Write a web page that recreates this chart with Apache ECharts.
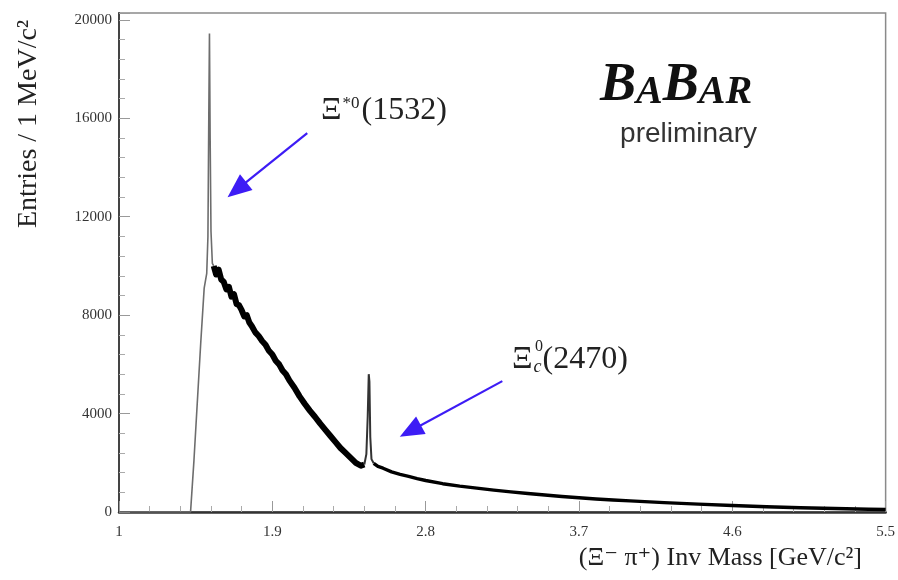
<!DOCTYPE html>
<html>
<head>
<meta charset="utf-8">
<script src="https://cdn.jsdelivr.net/npm/echarts@6/dist/echarts.min.js"></script>
<style>
  html, body { margin: 0; padding: 0; background: #fff; }
  #chart { width: 898px; height: 580px; }
</style>
</head>
<body>
<div id="chart"></div>
<script>
// values (mass in GeV/c^2, entries per 1 MeV/c^2)
var riseMass    = [1.0, 1.42, 1.44, 1.46, 1.48, 1.50, 1.515, 1.522, 1.527, 1.531, 1.535, 1.54, 1.548, 1.556];
var riseEntries = [0, 0, 2100, 4500, 6900, 9100, 9700, 11200, 16000, 19450, 15200, 11400, 10100, 10000];

var bandMass = [1.556, 1.57, 1.585, 1.60, 1.615, 1.63, 1.645, 1.66, 1.675, 1.69, 1.705, 1.72, 1.735, 1.75,
                1.765, 1.78, 1.80, 1.82, 1.84, 1.86, 1.88, 1.90, 1.92, 1.94, 1.96, 1.98, 2.00, 2.03,
                2.06, 2.09, 2.12, 2.15, 2.18, 2.21, 2.24, 2.27, 2.30, 2.33, 2.36, 2.39, 2.42, 2.44];
var bandEntries = [10000, 9650, 9850, 9450, 9350, 9050, 9150, 8750, 8850, 8450, 8400, 8200, 7950, 8000,
                   7700, 7550, 7300, 7150, 6950, 6800, 6550, 6400, 6150, 6000, 5750, 5600, 5350, 5050,
                   4700, 4400, 4120, 3870, 3600, 3350, 3100, 2850, 2600, 2400, 2200, 2000, 1880, 1930];

var spikeMass    = [2.44, 2.452, 2.46, 2.466, 2.47, 2.475, 2.482, 2.495];
var spikeEntries = [1930, 2350, 3900, 5600, 5300, 3050, 2150, 1980];

var tailMass    = [2.495, 2.52, 2.55, 2.6, 2.65, 2.7, 2.75, 2.8, 2.9, 3.0, 3.1, 3.2, 3.3, 3.4,
                   3.5, 3.6, 3.7, 3.8, 3.9, 4.0, 4.2, 4.4, 4.6, 4.8, 5.0, 5.2, 5.4, 5.5];
var tailEntries = [1980, 1850, 1780, 1630, 1530, 1450, 1360, 1280, 1150, 1050, 970, 890, 820, 750,
                   690, 630, 580, 530, 490, 450, 380, 320, 265, 215, 175, 140, 110, 100];

// annotation arrows: [start, head] in data coordinates
var arrow1530 = [[2.105, 15400], [1.692, 13100]];
var arrow2470 = [[3.250, 5320], [2.710, 3290]];

function pairs(xs, ys) {
  var out = [];
  for (var i = 0; i < xs.length; i++) out.push([xs[i], ys[i]]);
  return out;
}

var serif = '"Liberation Serif", "DejaVu Serif", serif';
var blue = '#3d1cf5';

var chart = echarts.init(document.getElementById('chart'));

function arrowItem(a) {
  return [
    { coord: a[0], symbol: 'none' },
    { coord: a[1], symbol: 'triangle', symbolSize: [20, 24] }
  ];
}

chart.setOption({
  animation: false,
  grid: { left: 119, right: 11, top: 13, bottom: 68, show: true, borderColor: '#8a8a8a', borderWidth: 1.5 },
  xAxis: {
    type: 'value', min: 1, max: 5.5, interval: 0.9,
    axisLine: { lineStyle: { color: '#333', width: 2.5 } },
    axisTick: { inside: true, length: 11, lineStyle: { color: '#999' } },
    minorTick: { show: true, splitNumber: 5, length: 6, lineStyle: { color: '#aaa' } },
    splitLine: { show: false },
    axisLabel: {
      margin: 13, color: '#333', fontFamily: serif, fontSize: 15,
      formatter: function (v) { return String(Math.round(v * 10) / 10); }
    }
  },
  yAxis: {
    type: 'value', min: 0, max: 20280, interval: 4000,
    axisLine: { show: true, lineStyle: { color: '#444', width: 2 } },
    axisTick: { inside: true, length: 11, lineStyle: { color: '#999' } },
    minorTick: { show: true, splitNumber: 5, length: 6, lineStyle: { color: '#aaa' } },
    splitLine: { show: false },
    axisLabel: {
      margin: 7, color: '#333', fontFamily: serif, fontSize: 15,
      formatter: function (v) { return String(v); }
    }
  },
  series: [
    {
      type: 'line', showSymbol: false, silent: true,
      data: pairs(riseMass, riseEntries),
      lineStyle: { color: '#6d6d6d', width: 1.6 },
      markLine: {
        silent: true, animation: false, label: { show: false },
        lineStyle: { color: blue, width: 2.2, type: 'solid' },
        itemStyle: { color: blue },
        data: [arrowItem(arrow1530), arrowItem(arrow2470)]
      }
    },
    {
      type: 'line', showSymbol: false, silent: true,
      data: pairs(bandMass, bandEntries),
      lineStyle: { color: '#000', width: 6, join: 'round' }
    },
    {
      type: 'line', showSymbol: false, silent: true,
      data: pairs(spikeMass, spikeEntries),
      lineStyle: { color: '#333', width: 2 }
    },
    {
      type: 'line', showSymbol: false, silent: true,
      data: pairs(tailMass, tailEntries),
      lineStyle: { color: '#000', width: 3.4, join: 'round' }
    }
  ],
  graphic: [
    {
      type: 'text', x: 29, y: 228, rotation: Math.PI / 2,
      style: { text: 'Entries / 1 MeV/c²', fill: '#222', font: '28px ' + serif, textAlign: 'left', textVerticalAlign: 'middle' }
    },
    {
      type: 'text', x: 862, y: 558,
      style: { text: '(Ξ⁻ π⁺) Inv Mass [GeV/c²]', fill: '#222', font: '26px ' + serif, textAlign: 'right', textVerticalAlign: 'middle' }
    },
    {
      type: 'text', x: 321, y: 111,
      style: {
        text: '{m|Ξ}{s|*0}{m|(1532)}', textAlign: 'left', textVerticalAlign: 'middle',
        rich: {
          m: { fontFamily: serif, fontSize: 32, fill: '#222', verticalAlign: 'bottom' },
          s: { fontFamily: serif, fontSize: 17, fill: '#222', verticalAlign: 'top', padding: [0, 2, 0, 1] }
        }
      }
    },
    {
      type: 'text', x: 512, y: 360,
      style: {
        text: '{m|Ξ}{s|c}{m|(2470)}', textAlign: 'left', textVerticalAlign: 'middle',
        rich: {
          m: { fontFamily: serif, fontSize: 32, fill: '#222', verticalAlign: 'top' },
          s: { fontFamily: serif, fontStyle: 'italic', fontSize: 18, fill: '#222', verticalAlign: 'bottom', padding: [0, 1, 0, 1] }
        }
      }
    },
    {
      type: 'text', x: 535, y: 347,
      style: { text: '0', fill: '#222', font: '16px ' + serif, textAlign: 'left', textVerticalAlign: 'middle' }
    },
    {
      type: 'text', x: 600, y: 86,
      style: {
        text: '{b|B}{s|A}{b|B}{s|AR}', textAlign: 'left', textVerticalAlign: 'middle',
        rich: {
          b: { fontFamily: serif, fontStyle: 'italic', fontWeight: 'bold', fontSize: 54, fill: '#111', verticalAlign: 'bottom' },
          s: { fontFamily: serif, fontStyle: 'italic', fontWeight: 'bold', fontSize: 40, fill: '#111', verticalAlign: 'bottom' }
        }
      }
    },
    {
      type: 'text', x: 757, y: 134,
      style: { text: 'preliminary', fill: '#333', font: '28px "Liberation Sans", Arial, sans-serif', textAlign: 'right', textVerticalAlign: 'middle' }
    }
  ]
});
</script>
</body>
</html>
